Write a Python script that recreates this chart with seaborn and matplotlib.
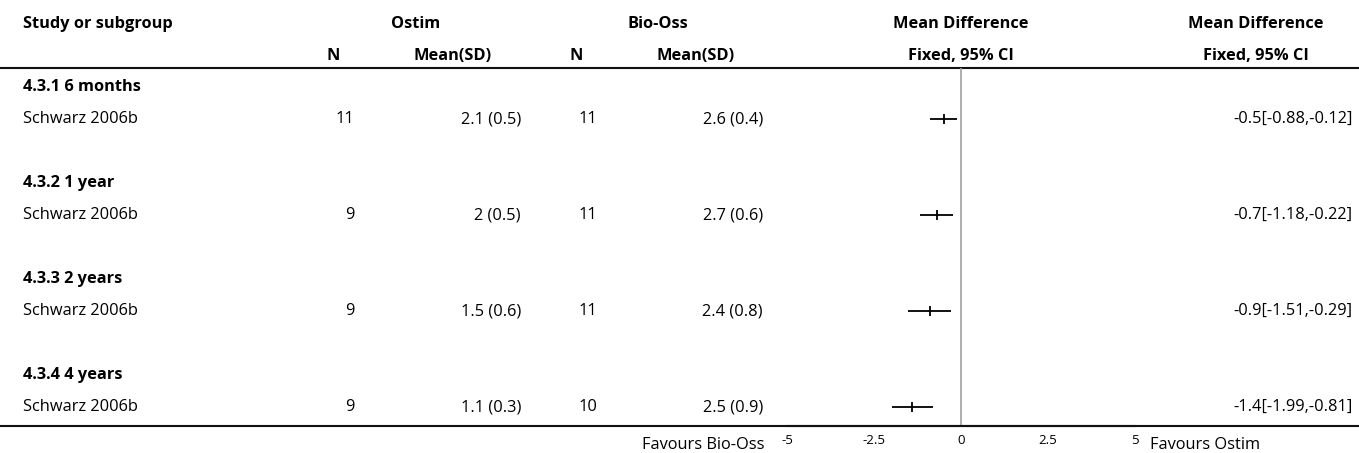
import matplotlib
matplotlib.use("Agg")
import matplotlib.pyplot as plt
import seaborn as sns
import pandas as pd

# --- data ---
subgroups = ["4.3.1 6 months", "4.3.2 1 year", "4.3.3 2 years", "4.3.4 4 years"]
studies = ["Schwarz 2006b", "Schwarz 2006b", "Schwarz 2006b", "Schwarz 2006b"]
n_ostim = [11, 9, 9, 9]
mean_ostim = [2.1, 2, 1.5, 1.1]
sd_ostim = [0.5, 0.5, 0.6, 0.3]
n_bio = [11, 11, 11, 10]
mean_bio = [2.6, 2.7, 2.4, 2.5]
sd_bio = [0.4, 0.6, 0.8, 0.9]
md = [-0.5, -0.7, -0.9, -1.4]
ci_lo = [-0.88, -1.18, -1.51, -1.99]
ci_hi = [-0.12, -0.22, -0.29, -0.81]
x_ticks = [-5, -2.5, 0, 2.5, 5]
x_ticklabels = ["-5", "-2.5", "0", "2.5", "5"]

sns.set_style("white")
plt.rcParams["font.family"] = ["Open Sans", "DejaVu Sans"]
plt.rcParams["text.color"] = "black"
plt.rcParams["xtick.color"] = "black"

W, H = 1359, 453
fig = plt.figure(figsize=(W / 100, H / 100), dpi=100)

# full-figure axes in pixel units for the table text
ax = fig.add_axes([0, 0, 1, 1])
ax.set_xlim(0, W)
ax.set_ylim(H, 0)
ax.axis("off")

fs = 11.8
top_line, bottom_line = 68, 426
row_gap = 96
study_y0 = 119

def head(x, y, s, ha="center"):
    ax.text(x, y, s, fontsize=fs, fontweight="bold", va="center", ha=ha)

# header
head(23, 24, "Study or subgroup", ha="left")
head(416, 24, "Ostim")
head(658, 24, "Bio-Oss")
head(961, 24, "Mean Difference")
head(1256, 24, "Mean Difference")
head(333, 56, "N")
head(492, 56, "Mean(SD)", ha="right")
head(576, 56, "N")
head(735, 56, "Mean(SD)", ha="right")
head(961, 56, "Fixed, 95% CI")
head(1256, 56, "Fixed, 95% CI")

ax.plot([0, W], [top_line, top_line], color="#111111", lw=1.5)
ax.plot([0, W], [bottom_line, bottom_line], color="#111111", lw=1.5)

row_y = []
for i in range(len(subgroups)):
    y = study_y0 + row_gap * i
    row_y.append(y)
    ax.text(23, y - 32, subgroups[i], fontsize=fs, fontweight="bold", va="center")
    ax.text(23, y, studies[i], fontsize=fs, va="center")
    ax.text(354, y, f"{n_ostim[i]}", fontsize=fs, va="center", ha="right")
    ax.text(521, y, f"{mean_ostim[i]:g} ({sd_ostim[i]:g})", fontsize=fs, va="center", ha="right")
    ax.text(597, y, f"{n_bio[i]}", fontsize=fs, va="center", ha="right")
    ax.text(763, y, f"{mean_bio[i]:g} ({sd_bio[i]:g})", fontsize=fs, va="center", ha="right")
    ax.text(1353, y, f"{md[i]:g}[{ci_lo[i]:g},{ci_hi[i]:g}]", fontsize=fs, va="center", ha="right")

ax.text(765, 445, "Favours Bio-Oss", fontsize=fs, va="center", ha="right")
ax.text(1150, 445, "Favours Ostim", fontsize=fs, va="center", ha="left")

# forest panel
x0, x1 = 787, 1135
fax = fig.add_axes([x0 / W, 1 - bottom_line / H, (x1 - x0) / W, (bottom_line - top_line) / H])
fax.patch.set_alpha(0)
fax.set_xlim(-5, 5)
fax.set_ylim(bottom_line, top_line)
fax.axvline(0, color="#a0a0a0", lw=1.2)

df = pd.DataFrame({"md": md, "lo": ci_lo, "hi": ci_hi, "y": row_y})
fax.hlines(df["y"], df["lo"], df["hi"], color="black", lw=1.3)
sns.scatterplot(data=df, x="md", y="y", marker="|", s=45, color="black",
                linewidth=1.3, ax=fax, legend=False)

for s in ["top", "left", "right"]:
    fax.spines[s].set_visible(False)
fax.spines["bottom"].set_color("#111111")
fax.spines["bottom"].set_linewidth(1.5)
fax.set_yticks([])
fax.set_xticks(x_ticks)
fax.set_xticklabels(x_ticklabels)
fax.tick_params(axis="x", direction="in", length=5, width=1, labelsize=9.5, pad=6, colors="black")
fax.set_xlabel("")
fax.set_ylabel("")

fig.savefig("out.png", dpi=100)
